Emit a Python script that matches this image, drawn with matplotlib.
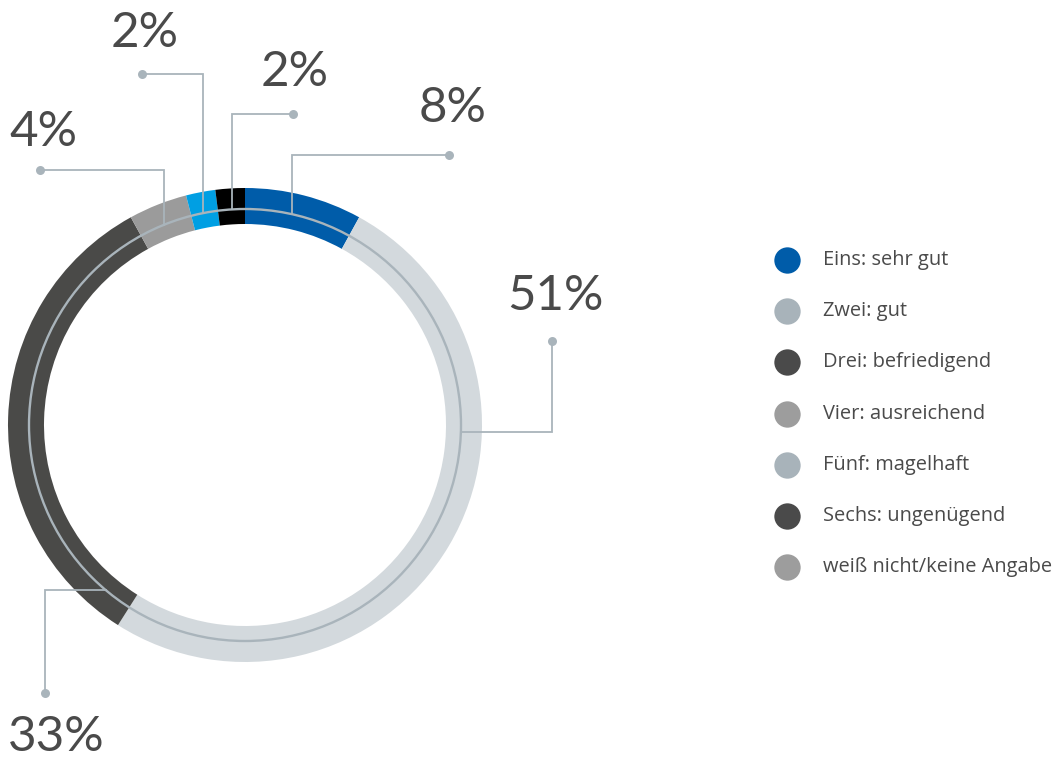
import matplotlib
matplotlib.use("Agg")
import matplotlib.pyplot as plt
import numpy as np

# ---- data ----
categories = ["Eins: sehr gut", "Zwei: gut", "Drei: befriedigend", "Vier: ausreichend",
              "Fünf: magelhaft", "Sechs: ungenügend", "weiß nicht/keine Angabe"]
values = [8, 51, 33, 4, 2, 2, 0]
ring_colors = ["#005ca9", "#d3d9dd", "#4a4a48", "#9b9b9b", "#009fe3", "#000000", "#9b9b9b"]
legend_colors = ["#005ca9", "#a8b3ba", "#4a4a4a", "#9d9d9d", "#a8b3ba", "#4a4a4a", "#9d9d9d"]
value_labels = ["8%", "51%", "33%", "4%", "2%", "2%"]

W, H = 1059, 760
fig = plt.figure(figsize=(W / 100, H / 100), dpi=100)
ax = fig.add_axes([0, 0, 1, 1])

def Y(y):  # pixel (top-down) -> data (bottom-up)
    return H - y

cx, cy = 245, 425
R_out, ring_w, R_line = 237, 36, 216

vals_draw = [v for v in values if v > 0]
cols_draw = [c for v, c in zip(values, ring_colors) if v > 0]
ax.pie(vals_draw, colors=cols_draw, startangle=90, counterclock=False,
       radius=R_out, center=(cx, Y(cy)), frame=True,
       wedgeprops=dict(width=ring_w, linewidth=0, antialiased=True))

line_col = "#a9b4bb"
circ = plt.Circle((cx, Y(cy)), R_line, fill=False, color=line_col, lw=1.7, zorder=3)
ax.add_patch(circ)

# leader layout: (fraction within wedge, route, elbow, dot(x,y), text(x,y))
layout = [
    (0.44, "v", 155, (449, 155), (453, 108)),
    (0.344, "h", 552, (552, 341), (555, 296)),
    (0.064, "h", 45, (45, 693), (56, 737)),
    (0.47, "v", 170, (40, 170), (43, 132)),
    (0.44, "v", 74, (142, 74), (145, 33)),
    (0.52, "v", 114, (293, 114), (295, 72)),
]
total = sum(values)
start = 0.0
for i, v in enumerate(values[:6]):
    frac, route, elbow, dot, txt = layout[i]
    ang = (start + frac * v) / total * 360.0  # clockwise from top
    start += v
    ax_x = cx + R_line * np.sin(np.radians(ang))
    ax_y = cy - R_line * np.cos(np.radians(ang))
    if route == "v":
        xs = [ax_x, ax_x, dot[0]]
        ys = [ax_y, elbow, dot[1]]
    else:
        xs = [ax_x, elbow, dot[0]]
        ys = [ax_y, ax_y, dot[1]]
    ax.plot(xs, [Y(y) for y in ys], color=line_col, lw=1.3, zorder=4,
            solid_joinstyle="miter")
    ax.scatter([dot[0]], [Y(dot[1])], s=42, color=line_col, zorder=5, linewidths=0)
    ax.text(txt[0], Y(txt[1]), value_labels[i], ha="center", va="center",
            fontsize=35.5, color="#4a4a4a", family="Lato")

# legend
for i, (lab, c) in enumerate(zip(categories, legend_colors)):
    ly = 260 + 51.2 * i
    ax.scatter([787], [Y(ly)], s=360, color=c, linewidths=0, zorder=5)
    ax.text(823, Y(ly), lab, ha="left", va="center", fontsize=14.4,
            color="#4a4a4a", family="Open Sans")

ax.set_xlim(0, W)
ax.set_ylim(0, H)
ax.set_aspect("equal")
ax.axis("off")
fig.savefig("out.png", dpi=100)
